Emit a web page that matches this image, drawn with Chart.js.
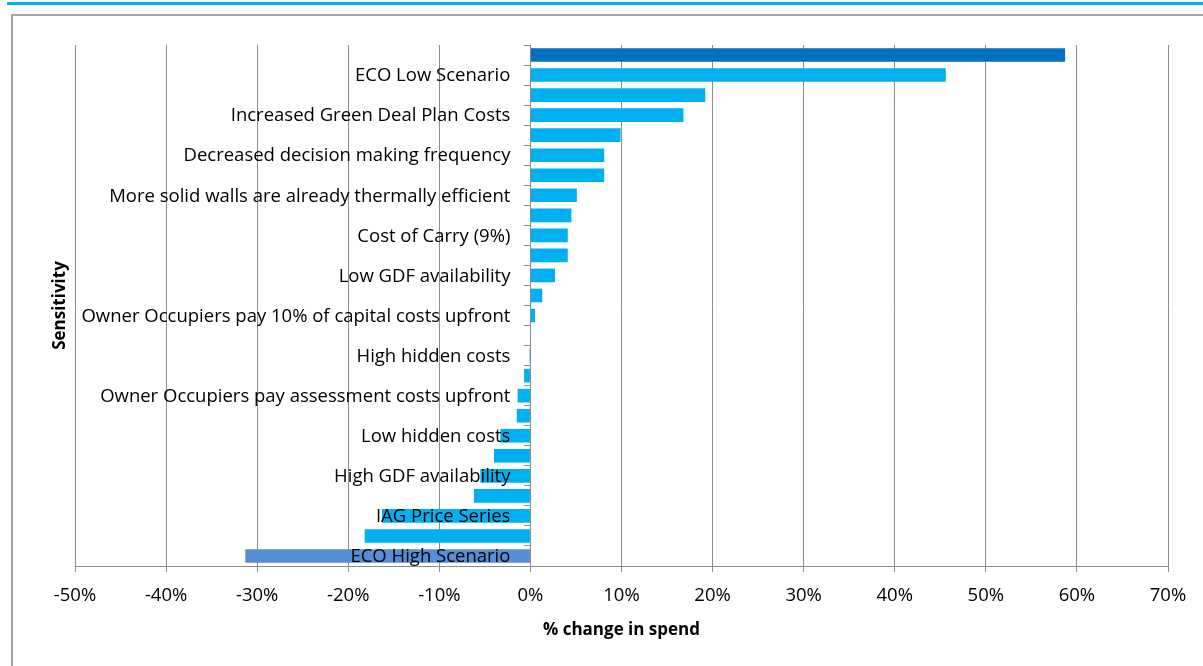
<!DOCTYPE html>
<html>
<head>
<meta charset="utf-8">
<script src="https://cdn.jsdelivr.net/npm/chart.js@4.4.1/dist/chart.umd.min.js"></script>
<style>
  body { margin: 0; background: #fff; }
  #wrap { position: relative; width: 1203px; height: 666px; overflow: hidden; }
  .topline { position: absolute; left: 7px; top: 2px; width: 1196px; height: 3px; background: #00b0f0; }
  .frame { position: absolute; left: 11px; top: 14px; width: 1220px; height: 700px;
           border-left: 2px solid #a3a3a3; border-top: 2px solid #a3a3a3; }
  canvas { position: absolute; left: 0; top: 0; }
</style>
</head>
<body>
<div id="wrap">
  <div class="topline"></div>
  <div class="frame"></div>
  <canvas id="chart" width="1203" height="666"></canvas>
</div>
<script>
// sensitivities, top to bottom (only every second one is labelled on the chart)
const labels = [
  '', 'ECO Low Scenario',
  '', 'Increased Green Deal Plan Costs',
  '', 'Decreased decision making frequency',
  '', 'More solid walls are already thermally efficient',
  '', 'Cost of Carry (9%)',
  '', 'Low GDF availability',
  '', 'Owner Occupiers pay 10% of capital costs upfront',
  '', 'High hidden costs',
  '', 'Owner Occupiers pay assessment costs upfront',
  '', 'Low hidden costs',
  '', 'High GDF availability',
  '', 'IAG Price Series',
  '', 'ECO High Scenario'
];

// % change in spend
const changes = [
  58.7, 45.6, 19.2, 16.8, 9.9, 8.1, 8.1, 5.1, 4.5, 4.1, 4.1, 2.7, 1.3,
  0.5, 0, -0.1, -0.7, -1.4, -1.5, -3.3, -4.0, -5.5, -6.2, -16.3, -18.2, -31.3
];

const xTicks = [-50, -40, -30, -20, -10, 0, 10, 20, 30, 40, 50, 60, 70];

const FONT = "'Open Sans', sans-serif";
Chart.defaults.font.family = FONT;
Chart.defaults.font.size = 18.5;
Chart.defaults.color = '#000';

const axisGrey = '#8c8c8c';

// category names sit beside the 0% axis and over the bars, like in Excel
const categoryLabels = {
  id: 'categoryLabels',
  afterDatasetsDraw(chart) {
    const { ctx, scales } = chart;
    const x0 = scales.x.getPixelForValue(0) - 20;
    ctx.save();
    ctx.font = '18.5px ' + FONT;
    ctx.fillStyle = '#000';
    ctx.textAlign = 'right';
    ctx.textBaseline = 'middle';
    labels.forEach((name, i) => {
      if (name) ctx.fillText(name, x0, scales.y.getPixelForValue(i) + 1);
    });
    ctx.restore();
  },
  afterDraw(chart) {
    // y axis title
    const { ctx, chartArea } = chart;
    ctx.save();
    ctx.translate(60, (chartArea.top + chartArea.bottom) / 2);
    ctx.rotate(-Math.PI / 2);
    ctx.font = 'bold 17px ' + FONT;
    ctx.fillStyle = '#000';
    ctx.textAlign = 'center';
    ctx.textBaseline = 'middle';
    ctx.fillText('Sensitivity', 0, 0);
    ctx.restore();
  }
};

const ctx = document.getElementById('chart').getContext('2d');
new Chart(ctx, {
  type: 'bar',
  data: {
    labels: labels,
    datasets: [{
      label: '% change in spend',
      data: changes,
      backgroundColor: (c) => {
        if (c.dataIndex === 0) return '#0070c0';
        if (c.dataIndex === changes.length - 1) return '#558ed5';
        return '#00b0f0';
      },
      barPercentage: 1,
      categoryPercentage: 0.68
    }]
  },
  options: {
    responsive: false,
    animation: false,
    indexAxis: 'y',
    layout: { padding: { left: 75, right: 35, top: 45, bottom: 0 } },
    plugins: {
      legend: { display: false },
      tooltip: { enabled: false }
    },
    scales: {
      x: {
        min: xTicks[0],
        max: xTicks[xTicks.length - 1],
        afterBuildTicks: (s) => { s.ticks = xTicks.map(v => ({ value: v })); },
        afterFit: (s) => { s.height = 100; },
        ticks: { callback: (v) => v + '%', padding: 13 },
        grid: { color: axisGrey, tickLength: 6 },
        border: { color: axisGrey },
        title: {
          display: true,
          text: '% change in spend',
          font: { weight: 'bold', size: 17 },
          padding: { top: 0, bottom: 26 }
        }
      },
      y: {
        position: { x: 0 },
        grid: { drawOnChartArea: false, color: axisGrey, tickLength: 6 },
        border: { color: axisGrey },
        ticks: { display: false }
      }
    }
  },
  plugins: [categoryLabels]
});
</script>
</body>
</html>
